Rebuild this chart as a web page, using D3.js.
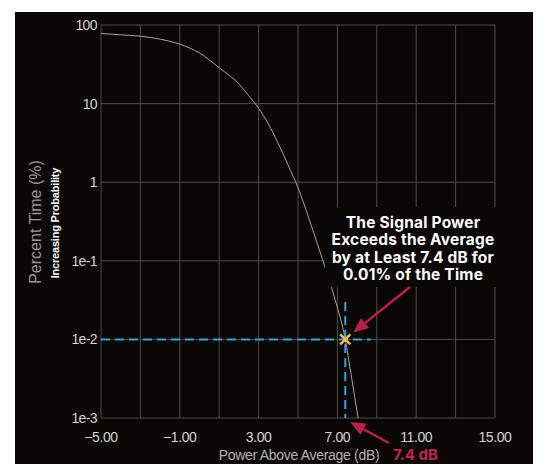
<!DOCTYPE html>
<html>
<head>
<meta charset="utf-8">
<script src="https://cdn.jsdelivr.net/npm/d3@7"></script>
<style>
  html, body { margin: 0; padding: 0; background: #fff; }
  svg { display: block; }
</style>
</head>
<body>
<div id="myfigure"></div>
<script>
// CCDF curve
var powerDb = [-5, -4, -3, -2, -1, 0, 1, 2, 2.5, 3, 3.5, 4, 4.5, 5, 5.5, 6, 6.5, 6.9, 7.4, 7.7, 8.05];
var percentTime = [78, 75, 72, 66, 57, 44, 28.5, 17.8, 12.6, 8.7, 5.5, 3.1, 1.65, 0.85, 0.38, 0.16, 0.066, 0.031, 0.01, 0.0035, 0.001];

var xTicks = [-5, -1, 3, 7, 11, 15];
var xGrid = [-5, -3, -1, 1, 3, 5, 7, 9, 11, 13, 15];
var yTicks = [0.001, 0.01, 0.1, 1, 10, 100];
var yTickLabels = ["1e-3", "1e-2", "1e-1", "1", "10", "100"];

var markerDb = 7.4;
var markerPct = 0.01;
var noteLines = ["The Signal Power", "Exceeds the Average", "by at Least 7.4 dB for", "0.01% of the Time"];

var width = 541, height = 464;

var svg = d3.select("#myfigure").append("svg")
    .attr("width", width)
    .attr("height", height);

// dark panel
svg.append("rect")
    .attr("x", 15).attr("y", 12)
    .attr("width", 518).attr("height", 452)
    .attr("fill", "#0a0706");

var xScale = d3.scaleLinear().domain([-5, 15]).range([101, 495]);
var yScale = d3.scaleLog().domain([0.001, 100]).range([418, 25]);

// grid
svg.append("g").selectAll("line").data(xGrid).enter().append("line")
    .attr("x1", function(d) { return xScale(d); })
    .attr("x2", function(d) { return xScale(d); })
    .attr("y1", yScale(100)).attr("y2", yScale(0.001))
    .attr("stroke", "#4d4d4d").attr("stroke-width", 1);
svg.append("g").selectAll("line").data(yTicks).enter().append("line")
    .attr("x1", xScale(-5)).attr("x2", xScale(15))
    .attr("y1", function(d) { return yScale(d); })
    .attr("y2", function(d) { return yScale(d); })
    .attr("stroke", "#4d4d4d").attr("stroke-width", 1);

// curve
var line = d3.line()
    .x(function(d) { return xScale(d[0]); })
    .y(function(d) { return yScale(d[1]); })
    .curve(d3.curveMonotoneX);
svg.append("path")
    .datum(d3.zip(powerDb, percentTime))
    .attr("d", line)
    .attr("fill", "none")
    .attr("stroke", "#a8a29c")
    .attr("stroke-width", 1);

// tick labels
svg.append("g").selectAll("text").data(xTicks).enter().append("text")
    .attr("x", function(d) { return xScale(d); })
    .attr("y", 442)
    .attr("text-anchor", "middle")
    .attr("fill", "#d4d4d4")
    .style("font", "14px 'Liberation Sans', Arial, sans-serif")
    .style("letter-spacing", "-0.4px")
    .text(function(d) { return d3.format(".2f")(d); });

svg.append("g").selectAll("text").data(yTicks).enter().append("text")
    .attr("x", 97)
    .attr("y", function(d) { return yScale(d) + 5; })
    .attr("text-anchor", "end")
    .attr("fill", "#d4d4d4")
    .style("font", "14px 'Liberation Sans', Arial, sans-serif")
    .style("letter-spacing", "-0.6px")
    .text(function(d, i) { return yTickLabels[i]; });

// axis titles
svg.append("text")
    .attr("x", 299).attr("y", 460)
    .attr("text-anchor", "middle")
    .attr("fill", "#b4b4b4")
    .style("font", "14px 'Liberation Sans', Arial, sans-serif")
    .style("letter-spacing", "-0.3px")
    .text("Power Above Average (dB)");

svg.append("text")
    .attr("x", 393).attr("y", 460)
    .attr("fill", "#c3224f")
    .style("font", "bold 15px Inter, 'Liberation Sans', sans-serif")
    .text("7.4 dB");

svg.append("text")
    .attr("transform", "translate(41,222) rotate(-90)")
    .attr("text-anchor", "middle")
    .attr("fill", "#9a9a9a")
    .style("font", "16px 'Liberation Sans', Arial, sans-serif")
    .text("Percent Time (%)");

svg.append("text")
    .attr("transform", "translate(59,223) rotate(-90)")
    .attr("text-anchor", "middle")
    .attr("fill", "#ffffff")
    .style("font", "bold 11px 'Liberation Sans', Arial, sans-serif")
    .style("letter-spacing", "-0.2px")
    .text("Increasing Probability");

// dashed guides
var mx = xScale(markerDb), my = yScale(markerPct);
svg.append("line")
    .attr("x1", xScale(-5)).attr("x2", xScale(8.7))
    .attr("y1", my).attr("y2", my)
    .attr("stroke", "#3a9fd6").attr("stroke-width", 2)
    .attr("stroke-dasharray", "9 5");
svg.append("line")
    .attr("x1", mx).attr("x2", mx)
    .attr("y1", yScale(0.03)).attr("y2", yScale(0.001))
    .attr("stroke", "#3a9fd6").attr("stroke-width", 2)
    .attr("stroke-dasharray", "9 5");

// marker X
var s = 5;
svg.append("path")
    .attr("d", "M" + (mx - s) + "," + (my - s) + "L" + (mx + s) + "," + (my + s) +
               "M" + (mx - s) + "," + (my + s) + "L" + (mx + s) + "," + (my - s))
    .attr("stroke", "#f2c04a").attr("stroke-width", 2.5)
    .attr("fill", "none");

// note box hiding grid behind text
svg.append("rect")
    .attr("x", 325).attr("y", 207)
    .attr("width", 172).attr("height", 80)
    .attr("fill", "#0a0706");

svg.append("g").selectAll("text").data(noteLines).enter().append("text")
    .attr("x", 413)
    .attr("y", function(d, i) { return 228 + i * 17.3; })
    .attr("text-anchor", "middle")
    .attr("fill", "#ffffff")
    .style("font", "bold 15.5px Inter, 'Liberation Sans', sans-serif")
    .style("letter-spacing", "0.2px")
    .text(function(d) { return d; });

// arrows
function arrow(x1, y1, x2, y2) {
    var a = Math.atan2(y2 - y1, x2 - x1);
    var len = 15, hw = 6.5;
    var bx = x2 - len * Math.cos(a), by = y2 - len * Math.sin(a);
    svg.append("line")
        .attr("x1", x1).attr("y1", y1).attr("x2", bx).attr("y2", by)
        .attr("stroke", "#b8204c").attr("stroke-width", 2.5);
    var px = -Math.sin(a) * hw, py = Math.cos(a) * hw;
    svg.append("path")
        .attr("d", "M" + x2 + "," + y2 + "L" + (bx + px) + "," + (by + py) +
                   "L" + (bx - px) + "," + (by - py) + "Z")
        .attr("fill", "#b8204c");
}
arrow(410, 287, mx + 8, my - 7);
arrow(389, 443, mx + 5, yScale(0.001) + 4);
</script>
</body>
</html>
